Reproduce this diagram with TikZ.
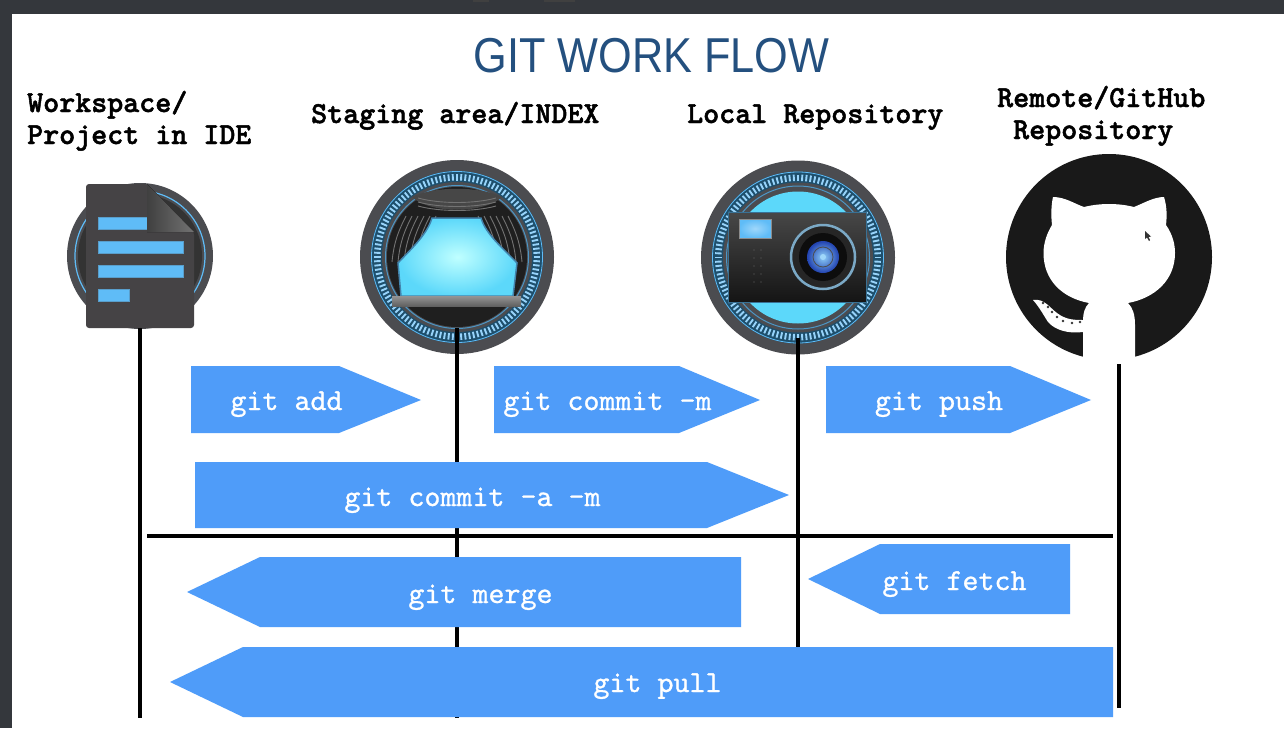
\documentclass[tikz,border=0pt]{standalone}
\usepackage{fontspec}
\setmainfont{Liberation Sans}
\newfontfamily\headfont{lmmonolt10-bold.otf}[FakeBold=1.6]
\newfontfamily\cmdfont{lmmono10-regular.otf}[FakeBold=0.9]
\usepackage{tikz}
\usetikzlibrary{positioning}
\definecolor{flowblue}{HTML}{4F9CF9}
\definecolor{titleblue}{HTML}{24507F}
\definecolor{barcolor}{HTML}{34373C}
\definecolor{ringgrey}{HTML}{4B4C50}
\definecolor{glowblue}{HTML}{5FBCF7}
\definecolor{panelgrey}{HTML}{454345}
\definecolor{screencyan}{HTML}{5CD8FA}
\definecolor{banddark}{HTML}{1E4F6C}
\tikzset{
    heading/.style={font=\headfont\fontsize{30.5}{32}\selectfont, text=black, inner sep=0pt, anchor=base west},
    cmdlabel/.style={font=\cmdfont\fontsize{30.5}{32}\selectfont, text=white, inner sep=0pt, anchor=base},
    cmdarrow/.style={fill=flowblue},
    lifeline/.style={draw=black, line width=3.6pt},
    ticks/.style={draw=glowblue!65!white, line width=1.9pt},
    docbar/.style={fill=glowblue, draw=glowblue!75!panelgrey, line width=1pt},
    folds/.style={draw=black!55, line width=0.9pt},
}

\begin{document}
\begin{tikzpicture}[x=1pt, y=-1pt]
        \useasboundingbox (0,0) rectangle (1284,728);
        \fill[white] (0,0) rectangle (1284,728);
        % window frame
        \fill[barcolor] (0,0) rectangle (1284,14);
        \fill[barcolor] (0,0) rectangle (12,728);
        \fill[black!75] (473,0) rectangle (489,1.5);
        \fill[black!75] (544,0) rectangle (575,1.5);

        \node[font=\fontsize{49}{52}\selectfont, text=titleblue, inner sep=0pt, anchor=base] (title) at (651.5,72.5) {\scalebox{0.883}[1]{GIT WORK FLOW}};

        \node[heading] (workspace) at (27,112) {Workspace/};
        \node[heading] (project) at (27,144) {Project in IDE};
        \node[heading] (staging) at (311,123) {Staging area/INDEX};
        \node[heading] (local) at (687,123) {Local Repository};
        \node[heading] (remote) at (997,107) {Remote/GitHub};
        \node[heading] (remoterepo) at (1013,139) {Repository};

        \coordinate (doc) at (140,256);
        \coordinate (stage) at (457,257);
        \coordinate (camera) at (798,257.5);
        \coordinate (github) at (1109,257);

        % workspace icon
        \fill[ringgrey] (doc) circle (73pt);
        \draw[glowblue, line width=1.2pt] (doc) circle (65pt);
        \fill[black!80] (doc) circle (62pt);
        \fill[panelgrey, rounded corners=3pt] (86,184) -- (147,184) -- (194,232) -- (194,328) -- (86,328) -- cycle;
        \filldraw[docbar] (98,217) rectangle (147,229);
        \filldraw[docbar] (98,241) rectangle (183,253);
        \filldraw[docbar] (98,265) rectangle (183,277);
        \filldraw[docbar] (98,289) rectangle (129,301);
        \fill[left color=black!75, right color=black!55] (147,184) -- (194,232) -- (147,232) -- cycle;

        % stage and camera dials
        \foreach \c in {stage, camera} {
            \fill[ringgrey] (\c) circle (97pt);
            \fill[banddark] (\c) circle (86pt);
            \draw[glowblue, line width=0.8pt] (\c) circle (85.5pt);
            \foreach \a in {0,3,...,357}
                \draw[ticks] ([shift={(\a:76.5pt)}]\c) -- ([shift={(\a:83pt)}]\c);
            \fill[ringgrey] (\c) circle (75pt);
            \draw[glowblue!80!black, line width=1pt] (\c) circle (71.5pt);
        }

        % stage
        \fill[black!88] (stage) circle (70pt);
        \foreach \x in {392,398,...,422} {
            \draw[folds] (\x,262) .. controls (\x+2,240) and (\x+8,228) .. (\x+14,216);
            \draw[folds] (914-\x,262) .. controls (912-\x,240) and (906-\x,228) .. (900-\x,216);
        }
        \fill[black!72] (412,197) .. controls (430,214) and (484,214) .. (502,197) .. controls (480,186) and (434,186) .. (412,197) -- cycle;
        \foreach \y in {198,202,206}
            \draw[folds] (418,\y) .. controls (440,\y+6) and (474,\y+6) .. (496,\y);
        \shade[inner color=cyan!25!white, outer color=screencyan, draw=glowblue!70!black, line width=1.5pt] (432,218) -- (481,218) .. controls (486,235) and (505,250) .. (517,263) -- (513,296) -- (401,296) -- (398,263) .. controls (410,250) and (427,235) .. (432,218) -- cycle;
        \shade[top color=black!42, bottom color=black!62] (392,296) rectangle (521,306);

        % camera
        \fill[screencyan] (camera) circle (66pt);
        \shade[top color=black!72, bottom color=black!92] (728,212) rectangle (866,302);
        \draw[glowblue!60!black, line width=0.8pt] (728,212) rectangle (866,302);
        \shade[inner color=glowblue!60!white, outer color=glowblue] (739,219) rectangle (771,238);
        \draw[black!45, line width=1pt] (739,219) rectangle (771,238);
        \foreach \y in {250,258,...,282}
            \foreach \x in {754,761}
                \fill[black!60] (\x,\y) circle (0.7pt);
        \fill[black!85] (823,257) circle (33pt);
        \draw[black!30!glowblue!70!white, line width=2.5pt] (823,257) circle (32pt);
        \fill[black!95] (823,257) circle (24pt);
        \shade[inner color=glowblue!70!white, outer color=blue!50!glowblue!70!black] (823,257) circle (16pt);
        \draw[black!70, line width=0.8pt] (823,257) circle (10pt);
        \fill[glowblue!60!white] (823,257) circle (3pt);

        % github mark
        \fill[black!90] (github) circle (103pt);
        \fill[white] (1053,197) .. controls (1065,197) and (1075,204) .. (1084,207) .. controls (1100,203) and (1118,203) .. (1134,207) .. controls (1144,203) and (1154,197) .. (1164,197) .. controls (1167,207) and (1167,216) .. (1166,225) .. controls (1173,235) and (1175,245) .. (1175,253) .. controls (1175,280) and (1155,298) .. (1128,303) .. controls (1133,308) and (1135,315) .. (1135,325) -- (1135,362) -- (1083,362) -- (1083,332) .. controls (1068,334) and (1055,330) .. (1048,322) .. controls (1044,316) and (1040,308) .. (1033,300) .. controls (1044,298) and (1050,308) .. (1057,313) .. controls (1066,320) and (1075,320) .. (1083,320) .. controls (1083,313) and (1085,307) .. (1089,303) .. controls (1062,298) and (1043.5,280) .. (1043.5,253) .. controls (1043.5,243) and (1047,233) .. (1052,225) .. controls (1051,216) and (1051,206) .. (1053,197) -- cycle;
        \foreach \x/\y in {1043/303, 1048/307, 1052/312, 1057/317, 1063/321, 1072/323, 1080/322}
            \fill[black!80] (\x,\y) circle (1.3pt);

        % pointer
        \fill[black!80] (1145,231) -- (1145,239) -- (1147,237.5) -- (1149,241) -- (1150,240) -- (1148.5,237) -- (1151,236.5) -- cycle;

        % lifelines
        \coordinate (wstop) at (140,328);
        \coordinate (wsbot) at (140,718);
        \coordinate (sttop) at (457,328);
        \coordinate (stbot) at (457,718);
        \coordinate (lctop) at (798,338);
        \coordinate (lcbot) at (798,647);
        \coordinate (rmtop) at (1119,364);
        \coordinate (rmbot) at (1119,708);
        \coordinate (splitl) at (147,536);
        \coordinate (splitr) at (1113,536);
        \draw[lifeline] (wstop) -- (wsbot);
        \draw[lifeline] (sttop) -- (stbot);
        \draw[lifeline] (lctop) -- (lcbot);
        \draw[lifeline] (rmtop) -- (rmbot);
        \draw[lifeline] (splitl) -- (splitr);

        % commands
        \fill[cmdarrow] (191,366) -- (339,366) -- (421,400) -- (339,433) -- (191,433) -- cycle;
        \node[cmdlabel] (add) at (286.5,410) {git add};
        \fill[cmdarrow] (494,366) -- (679,366) -- (760,400) -- (679,433) -- (494,433) -- cycle;
        \node[cmdlabel] (commit) at (607.5,410) {git commit -m};
        \fill[cmdarrow] (826,366) -- (1010,366) -- (1091,400) -- (1010,433) -- (826,433) -- cycle;
        \node[cmdlabel] (push) at (939,410) {git push};
        \fill[cmdarrow] (195,462) -- (707,462) -- (789,495) -- (707,528) -- (195,528) -- cycle;
        \node[cmdlabel] (commitall) at (472.5,506) {git commit -a -m};
        \fill[cmdarrow] (187,592) -- (260,557) -- (741,557) -- (741,627) -- (260,627) -- cycle;
        \node[cmdlabel] (merge) at (480.5,603) {git merge};
        \fill[cmdarrow] (808,579) -- (880,544) -- (1070,544) -- (1070,614) -- (880,614) -- cycle;
        \node[cmdlabel] (fetch) at (954.5,590) {git fetch};
        \fill[cmdarrow] (170,682) -- (243,647) -- (1113,647) -- (1113,717) -- (243,717) -- cycle;
        \node[cmdlabel] (pull) at (657.5,692) {git pull};
    \end{tikzpicture}
\end{document}
